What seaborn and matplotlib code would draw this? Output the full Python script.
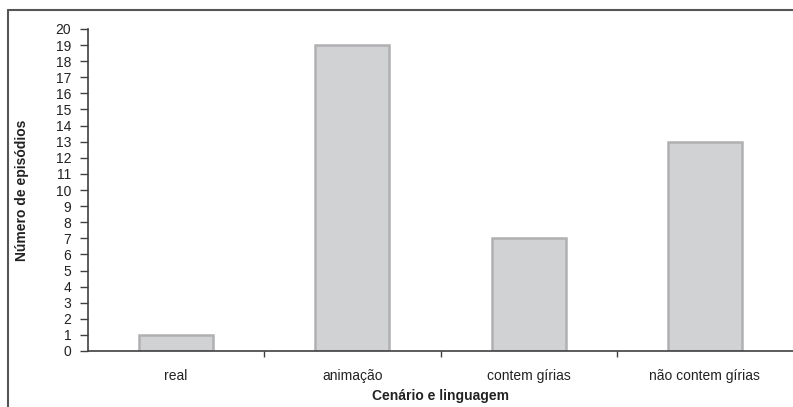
import matplotlib
matplotlib.use("Agg")
import matplotlib.pyplot as plt
from matplotlib.lines import Line2D
import seaborn as sns
import pandas as pd

# Data
categorias = ["real", "animação", "contem gírias", "não contem gírias"]
episodios = [1, 19, 7, 13]

df = pd.DataFrame({"Categoria": categorias, "Episodios": episodios})

sns.set_style("white")
plt.rcParams["font.family"] = ["Liberation Sans", "DejaVu Sans"]

fig = plt.figure(figsize=(7.93, 4.07), dpi=100)
ax = fig.add_axes([88 / 793, 1 - 351 / 407, 1 - 88 / 793, (351 - 29) / 407])

sns.barplot(data=df, x="Categoria", y="Episodios", ax=ax, width=0.42,
            color="#d1d2d4", edgecolor="#b0b0b2", linewidth=1.8, saturation=1)

ax.set_xlim(-0.5, 3.5)
ax.set_ylim(0, 20)
ax.set_yticks(range(0, 21))
ax.tick_params(axis="y", direction="out", length=6, width=1, color="#404040",
               labelsize=10, pad=6, left=True, labelcolor="#222222")
ax.set_xticks([0.5, 1.5, 2.5], minor=True)
ax.tick_params(axis="x", which="major", length=0, labelsize=10, pad=13, labelcolor="#222222")
ax.tick_params(axis="x", which="minor", direction="out", length=4, width=1, color="#404040", bottom=True)

for s in ["top", "right"]:
    ax.spines[s].set_visible(False)
for s in ["left", "bottom"]:
    ax.spines[s].set_color("#404040")
    ax.spines[s].set_linewidth(1.2)

ax.set_xlabel("Cenário e linguagem", fontsize=10, fontweight="bold", labelpad=4, color="#222222")
ax.set_ylabel("Número de episódios", fontsize=10, fontweight="bold", labelpad=19, color="#222222")

# outer frame (top and left edges visible)
fig.add_artist(Line2D([8 / 793, 8 / 793], [0, 1 - 10 / 407], transform=fig.transFigure,
                      color="#555555", linewidth=1.5))
fig.add_artist(Line2D([8 / 793, 1], [1 - 10 / 407, 1 - 10 / 407], transform=fig.transFigure,
                      color="#555555", linewidth=1.5))

fig.savefig("out.png", dpi=100)
